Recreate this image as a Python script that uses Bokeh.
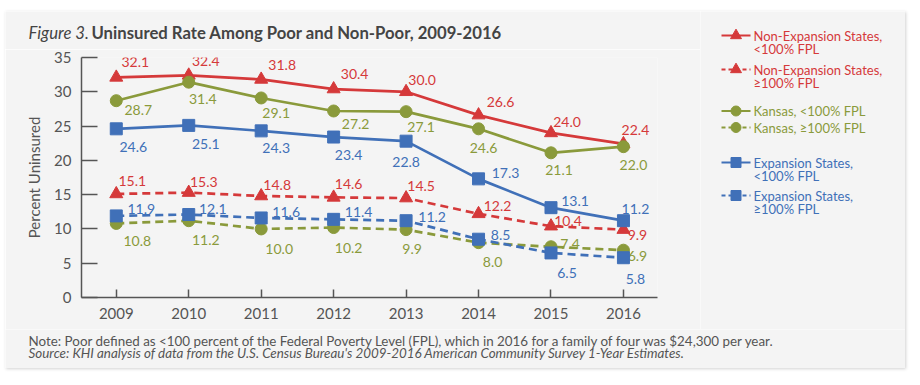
from bokeh.plotting import figure
from bokeh.models import Range1d, FixedTicker, ColumnDataSource
from bokeh.layouts import column, row
from bokeh.embed import file_html
from bokeh.resources import INLINE
from bokeh.core.properties import value

# ---------------- data ----------------
years = [2009, 2010, 2011, 2012, 2013, 2014, 2015, 2016]
nonexp_below = [32.1, 32.4, 31.8, 30.4, 30.0, 26.6, 24.0, 22.4]
nonexp_above = [15.1, 15.3, 14.8, 14.6, 14.5, 12.2, 10.4, 9.9]
kansas_below = [28.7, 31.4, 29.1, 27.2, 27.1, 24.6, 21.1, 22.0]
kansas_above = [10.8, 11.2, 10.0, 10.2, 9.9, 8.0, 7.4, 6.9]
exp_below = [24.6, 25.1, 24.3, 23.4, 22.8, 17.3, 13.1, 11.2]
exp_above = [11.9, 12.1, 11.6, 11.4, 11.2, 8.5, 6.5, 5.8]
y_ticks = [0, 5, 10, 15, 20, 25, 30, 35]

legend_labels = [
    ("Non-Expansion States,", "<100% FPL"),
    ("Non-Expansion States,", "\u2265100% FPL"),
    ("Kansas, <100% FPL", None),
    ("Kansas, \u2265100% FPL", None),
    ("Expansion States,", "<100% FPL"),
    ("Expansion States,", "\u2265100% FPL"),
]
title_lead = "Figure 3."
title_main = "Uninsured Rate Among Poor and Non-Poor, 2009-2016"
note_text = ("Note: Poor defined as <100 percent of the Federal Poverty Level (FPL), "
             "which in 2016 for a family of four was $24,300 per year.")
source_text = ("Source: KHI analysis of data from the U.S. Census Bureau's 2009-2016 "
               "American Community Survey 1-Year Estimates.")

# ---------------- styles ----------------
RED = "#d5393a"
OLIVE = "#8a9a3b"
BLUE = "#4070b8"
GRAY = "#555555"
TITLE_C = "#444444"
BG = "#f4f4f4"
FONT = "Lato"
DASH = "8 5"

# value-label placement (pixel offsets of each label from its point: right, down)
lab_nonexp_below = ([19, 17, 21, 21, 16, 22, 16, 12], [-15, -14, -14, -15, -12, -13, -11, -14])
lab_nonexp_above = ([16, 15, 16, 15, 15, 19, 17, 14], [-13, -11, -11, -13, -12, -8, -5, 5])
lab_kansas_below = ([22, 14, 15, 22, 15, 5, 8, 10], [9, 17, 15, 13, 15, 19, 17, 18])
lab_kansas_above = ([21, 17, 18, 15, 6, 14, 19, 14], [18, 19, 20, 20, 19, 19, -3, 6])
lab_exp_below = ([17, 17, 15, 15, 0, 27, 24, 12], [18, 19, 17, 18, 21, -6, -7, -12])
lab_exp_above = ([25, 24, 25, 25, 26, 22, 16, 12], [-7, -6, -6, -7, -4, -4, 20, 21])


def canvas(w, h):
    f = figure(width=w, height=h, output_backend="svg", toolbar_location=None,
               x_range=Range1d(0, w), y_range=Range1d(h, 0),
               x_axis_location=None, y_axis_location=None, min_border=0)
    f.background_fill_color = BG
    f.border_fill_color = BG
    f.outline_line_color = None
    f.grid.visible = False
    f.frame_align = False
    return f


# ---------------- main chart ----------------
p = figure(width=695, height=280, output_backend="svg", toolbar_location=None,
           x_range=Range1d(2008.52, 2016.47), y_range=Range1d(0, 35),
           min_border_left=76, min_border_right=43, min_border_top=8, min_border_bottom=32)
p.frame_align = False
p.background_fill_color = BG
p.border_fill_color = BG
p.outline_line_color = None
p.xgrid.visible = False
p.ygrid.visible = False

p.xaxis.ticker = FixedTicker(ticks=years)
p.yaxis.ticker = FixedTicker(ticks=y_ticks)
for ax in (p.xaxis[0], p.yaxis[0]):
    ax.axis_line_color = GRAY
    ax.axis_line_width = 1.5
    ax.major_tick_line_color = GRAY
    ax.major_tick_line_width = 1.5
    ax.major_tick_out = 0
    ax.minor_tick_line_color = None
    ax.major_label_text_font = FONT
    ax.major_label_text_font_size = "15px"
    ax.major_label_text_color = GRAY
    ax.major_label_standoff = 10
p.xaxis.major_tick_in = 8
p.yaxis.major_tick_in = 16
p.yaxis.axis_label = "Percent Uninsured"
p.yaxis.axis_label_text_font = FONT
p.yaxis.axis_label_text_font_size = "15px"
p.yaxis.axis_label_text_font_style = "normal"
p.yaxis.axis_label_text_color = GRAY
p.yaxis.axis_label_standoff = 8

series = [
    (nonexp_below, RED, "solid", "triangle", 13, lab_nonexp_below),
    (nonexp_above, RED, DASH, "triangle", 13, lab_nonexp_above),
    (kansas_below, OLIVE, "solid", "circle", 12, lab_kansas_below),
    (kansas_above, OLIVE, DASH, "circle", 12, lab_kansas_above),
    (exp_below, BLUE, "solid", "square", 12, lab_exp_below),
    (exp_above, BLUE, DASH, "square", 12, lab_exp_above),
]

for vals, color, dash, marker, size, (dx, dy) in series:
    src = ColumnDataSource(dict(x=years, y=vals, t=[f"{v:.1f}" for v in vals], dx=dx, dy=dy))
    p.line("x", "y", source=src, line_color=color, line_width=2.7, line_dash=dash)
    p.scatter("x", "y", source=src, marker=marker, size=size, fill_color=color, line_color=color)
    p.text("x", "y", text="t", source=src, x_offset="dx", y_offset="dy",
           text_align="center", text_baseline="middle", text_color=color,
           text_font=value(FONT), text_font_size="14px")

# ---------------- title strip ----------------
t = canvas(695, 38)
t.text(x=[23], y=[21], text=[title_lead], text_font=value(FONT), text_font_style="italic",
       text_font_size="16.7px", text_color=TITLE_C, text_baseline="middle")
t.text(x=[86], y=[21], text=[title_main], text_font=value(FONT), text_font_style="bold",
       text_font_size="16.7px", text_color=TITLE_C, text_baseline="middle")

# ---------------- legend panel ----------------
lg = canvas(205, 318)
leg_rows = [24, 58, 99.5, 116, 151, 184]
leg_styles = [
    (RED, "solid", "triangle", 11), (RED, "4 3", "triangle", 11),
    (OLIVE, "solid", "circle", 10), (OLIVE, "4 3", "circle", 10),
    (BLUE, "solid", "square", 10), (BLUE, "4 3", "square", 10),
]
for (l1, l2), (color, dash, marker, size), yy in zip(legend_labels, leg_styles, leg_rows):
    lg.line(x=[21, 50], y=[yy, yy], line_color=color, line_width=2, line_dash=dash)
    lg.scatter(x=[35.5], y=[yy], marker=marker, size=size, fill_color=color, line_color=color)
    lines = [l1] + ([l2] if l2 else [])
    lg.text(x=[53] * len(lines), y=[yy + 13.5 * i for i in range(len(lines))], text=lines,
            text_font=value(FONT), text_font_size="13px", text_color=color,
            text_baseline="middle")

# ---------------- notes strip ----------------
n = canvas(900, 39)
n.text(x=[23], y=[11], text=[note_text], text_font=value(FONT), text_font_size="13.4px",
       text_color=GRAY, text_baseline="middle")
n.text(x=[23], y=[23], text=[source_text], text_font=value(FONT), text_font_size="13.4px",
       text_font_style="italic", text_color=GRAY, text_baseline="middle")

root = column(row(column(t, p), lg), n)
root.margin = (11, 0, 0, 5)
root.styles = {"box-shadow": "1px 1px 3px rgba(0, 0, 0, 0.18)"}

open("out.html", "w").write(file_html(root, INLINE))
